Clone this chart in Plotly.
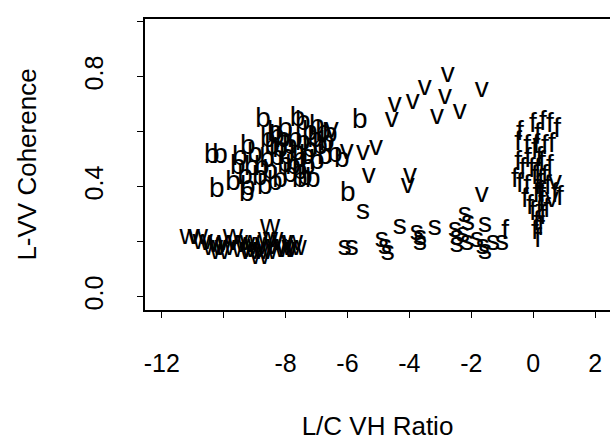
import plotly.graph_objects as go

# ---- data ----
b_x = [-8.73, -7.61, -5.60, -10.38, -10.12, -10.22, -9.25, -5.99,
       -9.22, -9.48, -9.54, -9.31, -9.70, -9.22, -8.67, -8.35, -8.83, -9.09,
       -8.77, -8.50, -8.60, -8.28, -8.44, -8.28, -8.09, -7.86, -7.96, -7.64,
       -7.76, -7.54, -7.38, -7.12, -7.54, -7.28, -7.31, -7.44, -7.22, -7.44,
       -6.99, -6.79, -6.89, -6.73, -6.99, -8.35, -8.57, -6.57, -6.67, -6.41, -6.18,
       -8.18, -8.02, -7.70, -7.86, -8.18, -7.54, -7.22, -7.05, -8.99, -8.02]
b_y = [0.643, 0.646, 0.639, 0.512, 0.512, 0.388, 0.373, 0.373,
       0.544, 0.504, 0.472, 0.435, 0.413, 0.395, 0.399, 0.413, 0.432, 0.468,
       0.468, 0.453, 0.497, 0.504, 0.544, 0.581, 0.570, 0.544, 0.508, 0.523,
       0.472, 0.453, 0.432, 0.424, 0.424, 0.472, 0.508, 0.559, 0.595, 0.632,
       0.617, 0.595, 0.544, 0.508, 0.490, 0.595, 0.570, 0.588, 0.559, 0.515, 0.497,
       0.533, 0.479, 0.570, 0.442, 0.424, 0.497, 0.533, 0.570, 0.515, 0.606]

w_x = [-11.10, -10.83, -10.68, -10.45, -10.35, -10.19, -10.12, -9.96, -9.70,
       -9.54, -9.31, -9.15, -9.15, -8.99, -8.90, -8.83, -8.67, -8.57, -8.57,
       -8.50, -8.40, -8.28, -8.12, -7.96, -7.80, -7.64, -7.76, -9.86, -9.41,
       -8.73, -8.03]
w_y = [0.217, 0.217, 0.199, 0.195, 0.177, 0.188, 0.163, 0.177, 0.217,
       0.195, 0.188, 0.195, 0.163, 0.170, 0.181, 0.144, 0.188, 0.206, 0.163,
       0.253, 0.206, 0.181, 0.195, 0.170, 0.177, 0.177, 0.195, 0.195, 0.170,
       0.163, 0.170]

v_x = [-2.76, -3.50, -3.89, -4.47, -4.57, -2.85, -3.11, -2.37, -1.66, -3.98,
       -4.05, -1.66, -5.50, -5.08, -5.31, -6.51, -6.02, 0.70, 0.60]
v_y = [0.806, 0.759, 0.708, 0.697, 0.643, 0.726, 0.653, 0.672, 0.752, 0.439,
       0.403, 0.370, 0.523, 0.541, 0.439, 0.606, 0.526, 0.413, 0.352]

s_x = [-5.50, -6.09, -5.86, -4.89, -4.79, -4.70, -4.31, -3.76, -3.66, -3.66,
       -3.18, -2.53, -2.47, -2.47, -2.27, -2.14, -2.21, -2.11, -1.82, -1.56,
       -1.63, -1.56, -1.30, -1.01]
s_y = [0.308, 0.177, 0.177, 0.206, 0.181, 0.159, 0.253, 0.232, 0.213, 0.195,
       0.250, 0.243, 0.213, 0.188, 0.224, 0.195, 0.297, 0.268, 0.206, 0.261,
       0.181, 0.163, 0.195, 0.195]

f_x = [-0.43, -0.01, 0.31, 0.54, 0.77, 0.15, -0.49, -0.20, 0.05, 0.38, 0.60,
       -0.49, -0.33, -0.59, -0.43, -0.20, 0.05, 0.15, 0.28, 0.38, 0.47, 0.70,
       0.86, -0.27, -0.11, -0.01, 0.12, 0.05, 0.15, 0.28, 0.22, 0.31, 0.44,
       0.54, -0.04, -0.17, -0.91, 0.15, 0.20, 0.10, 0.25, 0.30, 0.10, 0.20, 0.25]
f_y = [0.595, 0.624, 0.632, 0.624, 0.606, 0.588, 0.559, 0.544, 0.533, 0.544,
       0.552, 0.486, 0.461, 0.424, 0.406, 0.399, 0.435, 0.461, 0.486, 0.435,
       0.399, 0.370, 0.359, 0.352, 0.326, 0.304, 0.268, 0.235, 0.206, 0.341,
       0.377, 0.290, 0.315, 0.472, 0.461, 0.497, 0.235, 0.400, 0.500, 0.550,
       0.420, 0.370, 0.370, 0.310, 0.250]

groups = [("b", b_x, b_y), ("w", w_x, w_y), ("v", v_x, v_y),
          ("s", s_x, s_y), ("f", f_x, f_y)]

x_ticks = [-12, -10, -8, -6, -4, -2, 0, 2]
x_tick_text = ["-12", "", "-8", "-6", "-4", "-2", "0", "2"]
y_ticks = [0.0, 0.2, 0.4, 0.6, 0.8, 1.0]
y_tick_text = ["0.0", "", "0.4", "", "0.8", ""]

FONT = "Liberation Sans, Arial, Helvetica, sans-serif"

fig = go.Figure()
for letter, xs, ys in groups:
    fig.add_trace(go.Scatter(
        x=xs, y=ys, mode="text", text=[letter] * len(xs),
        textposition="middle center",
        textfont=dict(family=FONT, size=28, color="black"),
        showlegend=False, hoverinfo="skip"))

fig.update_layout(
    width=610, height=447,
    margin=dict(l=145, r=0, t=19, b=137),
    paper_bgcolor="white", plot_bgcolor="white",
    font=dict(family=FONT, color="black"),
    xaxis=dict(
        range=[-12.54, 2.48], showgrid=False, zeroline=False,
        showline=True, linecolor="black", linewidth=1.8, mirror=True,
        ticks="outside", ticklen=6, tickwidth=1.2, tickcolor="black",
        tickvals=x_ticks, ticktext=x_tick_text,
        tickfont=dict(family=FONT, size=25, color="black"),
        ticklabelstandoff=24,
        title=dict(text="L/C VH Ratio", standoff=41,
                   font=dict(family=FONT, size=26, color="black")),
    ),
    yaxis=dict(
        range=[-0.048, 1.010], showgrid=False, zeroline=False,
        showline=True, linecolor="black", linewidth=1.8, mirror=False,
        ticks="outside", ticklen=6, tickwidth=1.2, tickcolor="black",
        tickvals=y_ticks, ticktext=y_tick_text, tickangle=-90,
        tickfont=dict(family=FONT, size=25, color="black"),
        ticklabelstandoff=24,
        title=dict(text="L-VV Coherence", standoff=36,
                   font=dict(family=FONT, size=26, color="black")),
    ),
)

fig.write_html("out.html")
